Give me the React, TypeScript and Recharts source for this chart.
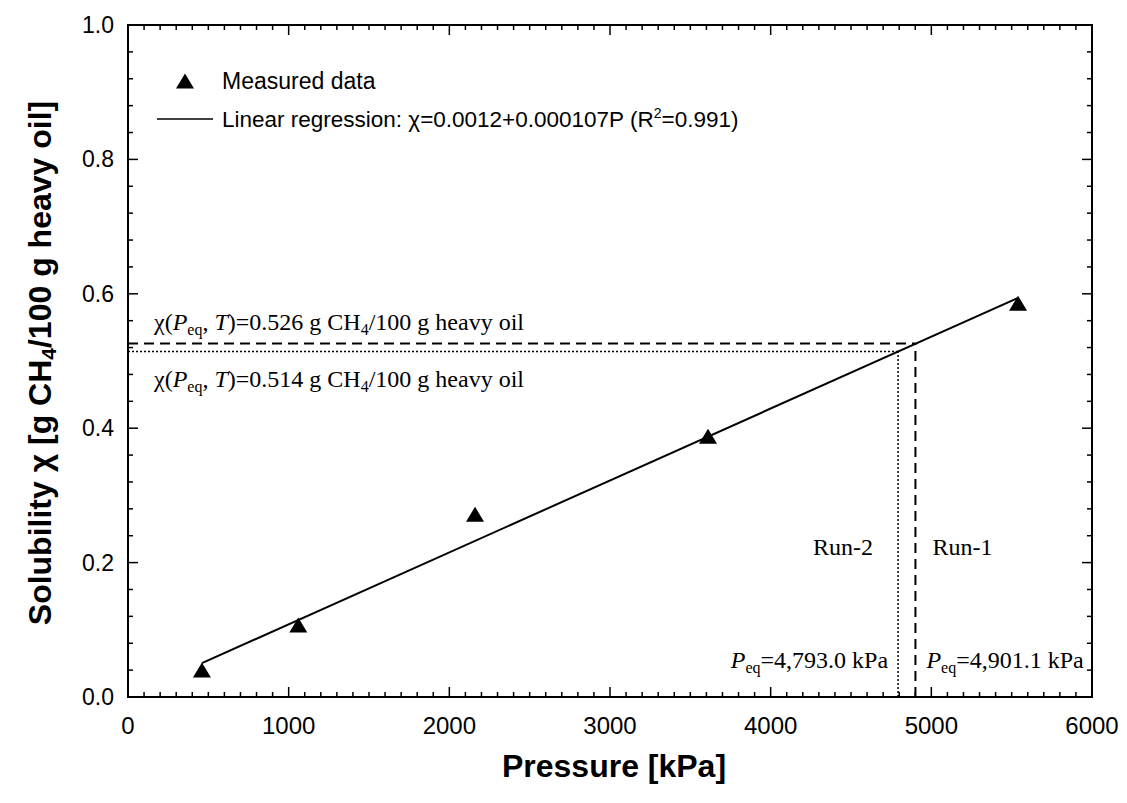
import React from "react";
import {
  ComposedChart,
  Legend,
  Line,
  ReferenceLine,
  Scatter,
  XAxis,
  YAxis,
} from "recharts";

// measured solubility points
const P_MEASURED = [460, 1060, 2160, 3610, 5540];
const CHI_MEASURED = [0.04, 0.107, 0.272, 0.388, 0.586];

// end points of the fitted line chi = 0.0012 + 0.000107P
const P_FIT = [460, 5540];
const CHI_FIT = [0.0504, 0.594];

// equilibrium read-offs for the two runs
const P_RUN1 = 4901.1;
const CHI_RUN1 = 0.526;
const P_RUN2 = 4793.0;
const CHI_RUN2 = 0.514;

const X_MAJOR = [0, 1000, 2000, 3000, 4000, 5000, 6000];
const Y_MAJOR = [0, 0.2, 0.4, 0.6, 0.8, 1.0];
const X_TICKS = Array.from({ length: 61 }, (_, i) => i * 100);
const Y_TICKS = Array.from({ length: 26 }, (_, i) => Math.round(i * 4) / 100);

const measured = P_MEASURED.map((P, i) => ({ P, chi: CHI_MEASURED[i] }));
const fit = P_FIT.map((P, i) => ({ P, chi: CHI_FIT[i] }));

const SANS = "'Liberation Sans', Arial, sans-serif";
const SERIF = "'Liberation Serif', 'Times New Roman', serif";
const AXIS_LINE = { stroke: "#000", strokeWidth: 2, strokeLinecap: "square" as const };

const isMajorX = (v: number) => X_MAJOR.includes(v);
const isMajorY = (v: number) => Y_MAJOR.some((m) => Math.abs(m - v) < 1e-6);

function XTick({ x, y, payload, side }: any) {
  const major = isMajorX(payload.value);
  const len = major ? 10 : 5;
  const dir = side === "top" ? 1 : -1;
  return (
    <g>
      <line x1={x} x2={x} y1={y} y2={y + dir * len} stroke="#000" strokeWidth={1.5} />
      {major && side !== "top" && (
        <text x={x} y={y + 37} textAnchor="middle" fontFamily={SANS} fontSize={24} fill="#000">
          {payload.value}
        </text>
      )}
    </g>
  );
}

function YTick({ x, y, payload, side }: any) {
  const major = isMajorY(payload.value);
  const len = major ? 10 : 5;
  const dir = side === "right" ? -1 : 1;
  return (
    <g>
      <line x1={x} x2={x + dir * len} y1={y} y2={y} stroke="#000" strokeWidth={1.5} />
      {major && side !== "right" && (
        <text x={x - 14} y={y + 8} textAnchor="end" fontFamily={SANS} fontSize={23} fill="#000">
          {payload.value.toFixed(1)}
        </text>
      )}
    </g>
  );
}

function XTitle({ viewBox }: any) {
  const { x, y, width } = viewBox;
  return (
    <text x={x + width / 2 + 4} y={y + 80} textAnchor="middle" fontFamily={SANS} fontWeight="bold" fontSize={32} fill="#000">
      Pressure [kPa]
    </text>
  );
}

function YTitle({ viewBox }: any) {
  const cx = 32;
  const cy = viewBox.y + viewBox.height / 2 + 2;
  return (
    <text
      x={cx}
      y={cy}
      transform={`rotate(-90 ${cx} ${cy})`}
      textAnchor="middle"
      dominantBaseline="central"
      fontFamily={SANS}
      fontWeight="bold"
      fontSize={32}
      fill="#000"
    >
      Solubility χ [g CH
      <tspan fontSize={21} dy={8}>4</tspan>
      <tspan dy={-8}>/100 g heavy oil]</tspan>
    </text>
  );
}

// χ(Peq, T)=… g CH4/100 g heavy oil
function ChiText({ x, y, value }: { x: number; y: number; value: number }) {
  return (
    <text x={x} y={y} fontFamily={SERIF} fontSize={24} fill="#000">
      χ(<tspan fontStyle="italic">P</tspan>
      <tspan fontSize={16} dy={5}>eq</tspan>
      <tspan dy={-5}>, </tspan>
      <tspan fontStyle="italic">T</tspan>)={value.toFixed(3)} g CH
      <tspan fontSize={16} dy={5}>4</tspan>
      <tspan dy={-5}>/100 g heavy oil</tspan>
    </text>
  );
}

function PeqText({ x, y, value, anchor }: { x: number; y: number; value: string; anchor: "start" | "end" }) {
  return (
    <text x={x} y={y} textAnchor={anchor} fontFamily={SERIF} fontSize={24} fill="#000">
      <tspan fontStyle="italic">P</tspan>
      <tspan fontSize={16} dy={5}>eq</tspan>
      <tspan dy={-5}>={value} kPa</tspan>
    </text>
  );
}

function HLabel({ viewBox, value, below }: any) {
  if (!viewBox) return null;
  return <ChiText x={viewBox.x + 26} y={below ? viewBox.y + 35 : viewBox.y - 14} value={value} />;
}

function VLabel({ viewBox, run, peq, left }: any) {
  if (!viewBox) return null;
  const bottom = viewBox.y + viewBox.height;
  const x = viewBox.x;
  return (
    <g>
      <text
        x={left ? x - 25 : x + 17}
        y={bottom - 142}
        textAnchor={left ? "end" : "start"}
        fontFamily={SERIF}
        fontSize={24}
        fill="#000"
      >
        {run}
      </text>
      <PeqText x={left ? x - 10 : x + 11} y={bottom - 29} value={peq} anchor={left ? "end" : "start"} />
    </g>
  );
}

function Triangle({ cx, cy }: any) {
  return <polygon points={`${cx},${cy - 7.5} ${cx - 9},${cy + 7.5} ${cx + 9},${cy + 7.5}`} fill="#000" />;
}

function LegendBox() {
  return (
    <svg width={700} height={80} style={{ display: "block", overflow: "visible" }}>
      <Triangle cx={37} cy={18} />
      <text x={74} y={26} fontFamily={SANS} fontSize={23} fill="#000">
        Measured data
      </text>
      <line x1={9} x2={65} y1={56} y2={56} stroke="#000" strokeWidth={1.5} />
      <text x={74} y={64} fontFamily={SANS} fontSize={22.5} fill="#000">
        Linear regression: χ=0.0012+0.000107P (R
        <tspan fontSize={14} dy={-9}>2</tspan>
        <tspan dy={9}>=0.991)</tspan>
      </text>
    </svg>
  );
}

export default function App() {
  return (
    <div style={{ width: 1111, height: 787 }}>
      <ComposedChart width={1111} height={787} margin={{ top: 16, right: 26, left: 0, bottom: 0 }}>
        <XAxis
          xAxisId="b"
          type="number"
          dataKey="P"
          domain={[0, 6000]}
          allowDataOverflow
          ticks={X_TICKS}
          interval={0}
          tickSize={0}
          tickMargin={0}
          tickLine={false}
          axisLine={AXIS_LINE}
          tick={<XTick side="bottom" />}
          height={98}
          label={<XTitle />}
        />
        <XAxis
          xAxisId="t"
          orientation="top"
          type="number"
          dataKey="P"
          domain={[0, 6000]}
          allowDataOverflow
          ticks={X_TICKS}
          interval={0}
          tickSize={0}
          tickMargin={0}
          tickLine={false}
          axisLine={AXIS_LINE}
          tick={<XTick side="top" />}
          height={1}
        />
        <YAxis
          yAxisId="l"
          type="number"
          domain={[0, 1]}
          allowDataOverflow
          ticks={Y_TICKS}
          interval={0}
          tickSize={0}
          tickMargin={0}
          tickLine={false}
          axisLine={AXIS_LINE}
          tick={<YTick side="left" />}
          width={120}
          label={<YTitle />}
        />
        <YAxis
          yAxisId="r"
          orientation="right"
          type="number"
          domain={[0, 1]}
          allowDataOverflow
          ticks={Y_TICKS}
          interval={0}
          tickSize={0}
          tickMargin={0}
          tickLine={false}
          axisLine={AXIS_LINE}
          tick={<YTick side="right" />}
          width={1}
        />
        <Legend
          layout="horizontal"
          verticalAlign="middle"
          align="center"
          wrapperStyle={{ left: 140, top: 55, width: 700 }}
          content={() => <LegendBox />}
        />
        <Line
          xAxisId="t"
          yAxisId="r"
          data={fit}
          dataKey="chi"
          stroke="none"
          dot={false}
          legendType="none"
          isAnimationActive={false}
        />
        <ReferenceLine
          xAxisId="b"
          yAxisId="l"
          segment={[{ x: 0, y: CHI_RUN1 }, { x: P_RUN1, y: CHI_RUN1 }]}
          stroke="#000"
          strokeWidth={2}
          strokeDasharray="10 6"
          label={<HLabel value={CHI_RUN1} />}
        />
        <ReferenceLine
          xAxisId="b"
          yAxisId="l"
          segment={[{ x: P_RUN1, y: 0 }, { x: P_RUN1, y: CHI_RUN1 }]}
          stroke="#000"
          strokeWidth={2}
          strokeDasharray="10 6"
          label={<VLabel run="Run-1" peq="4,901.1" />}
        />
        <ReferenceLine
          xAxisId="b"
          yAxisId="l"
          segment={[{ x: 0, y: CHI_RUN2 }, { x: P_RUN2, y: CHI_RUN2 }]}
          stroke="#000"
          strokeWidth={1.5}
          strokeDasharray="2 2"
          label={<HLabel value={CHI_RUN2} below />}
        />
        <ReferenceLine
          xAxisId="b"
          yAxisId="l"
          segment={[{ x: P_RUN2, y: 0 }, { x: P_RUN2, y: CHI_RUN2 }]}
          stroke="#000"
          strokeWidth={1.5}
          strokeDasharray="2 2"
          label={<VLabel run="Run-2" peq="4,793.0" left />}
        />
        <Line
          xAxisId="b"
          yAxisId="l"
          data={fit}
          dataKey="chi"
          stroke="#000"
          strokeWidth={2}
          dot={false}
          isAnimationActive={false}
        />
        <Scatter
          xAxisId="b"
          yAxisId="l"
          data={measured}
          dataKey="chi"
          shape={<Triangle />}
          isAnimationActive={false}
        />
      </ComposedChart>
    </div>
  );
}
